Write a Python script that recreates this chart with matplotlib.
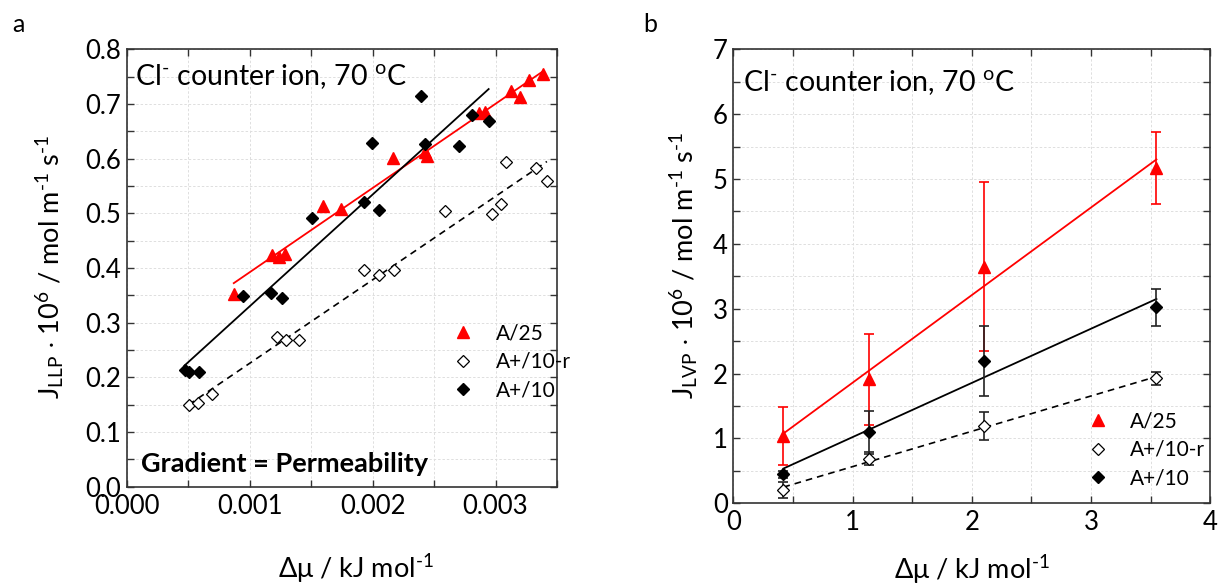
import numpy as np
import matplotlib
matplotlib.use("Agg")
import matplotlib.pyplot as plt
from matplotlib.ticker import MultipleLocator

plt.rcParams['font.family'] = ['Lato', 'DejaVu Sans']
plt.rcParams['mathtext.fontset'] = 'custom'
plt.rcParams['mathtext.rm'] = 'Lato'
plt.rcParams['mathtext.it'] = 'Lato:italic'
plt.rcParams['mathtext.bf'] = 'Lato:bold'
plt.rcParams['mathtext.fallback'] = 'stix'

# panel a: liquid-liquid permeation
a25_x = [0.000869, 0.001182, 0.001236, 0.001283, 0.001596, 0.001743, 0.002165, 0.002427,
         0.002440, 0.002865, 0.002911, 0.003124, 0.003203, 0.003271, 0.003385]
a25_y = [0.353, 0.424, 0.420, 0.426, 0.513, 0.508, 0.602, 0.613,
         0.605, 0.683, 0.685, 0.723, 0.713, 0.744, 0.754]

a10r_x = [0.000501, 0.000577, 0.000694, 0.001217, 0.001296, 0.001400, 0.001926, 0.002053,
          0.002176, 0.002587, 0.002974, 0.003042, 0.003083, 0.003333, 0.003418]
a10r_y = [0.150, 0.153, 0.169, 0.274, 0.269, 0.269, 0.396, 0.388,
          0.396, 0.504, 0.499, 0.517, 0.594, 0.583, 0.559]

a10_x = [0.000468, 0.000507, 0.000586, 0.000942, 0.001176, 0.001258, 0.001509, 0.001928,
         0.001996, 0.002053, 0.002396, 0.002429, 0.002701, 0.002805, 0.002944]
a10_y = [0.214, 0.209, 0.209, 0.348, 0.355, 0.346, 0.492, 0.520,
         0.628, 0.506, 0.715, 0.627, 0.623, 0.679, 0.668]

# panel b: liquid-vapour permeation
b_x = [0.42, 1.14, 2.10, 3.55]
b25_y = [1.04, 1.91, 3.65, 5.17]
b25_err = [0.45, 0.70, 1.30, 0.55]
b10r_y = [0.205, 0.683, 1.19, 1.93]
b10r_err = [0.12, 0.10, 0.21, 0.10]
b10_y = [0.447, 1.095, 2.20, 3.02]
b10_err = [0.05, 0.33, 0.54, 0.28]

labels = ['A/25', 'A+/10-r', 'A+/10']

RED = '#ff0000'
BLK = '#000000'
GRID = '#dedede'


def fit_line(ax, x, y, **kw):
    k, b = np.polyfit(x, y, 1)
    xs = np.array([min(x), max(x)])
    ax.plot(xs, k * xs + b, zorder=2, **kw)


def style_axes(ax):
    ax.grid(which='both', color=GRID, lw=0.7, ls=(0, (2.5, 2)))
    ax.tick_params(which='both', direction='in', top=True, right=True,
                   length=5, width=1.0, color='#333333', labelsize=18.5)
    ax.tick_params(axis='x', pad=5)
    ax.tick_params(axis='y', pad=4)
    for s in ax.spines.values():
        s.set_color('#333333')
        s.set_linewidth(1.2)
    ax.set_axisbelow(True)


fig = plt.figure(figsize=(12.19, 5.85), dpi=100)

# ---- panel a ----
ax1 = fig.add_axes([0.1042, 0.1680, 0.3527, 0.7477])
style_axes(ax1)
ax1.set_xlim(0, 0.0035)
ax1.set_ylim(0, 0.8)
ax1.xaxis.set_major_locator(MultipleLocator(0.001))
ax1.xaxis.set_minor_locator(MultipleLocator(0.0005))
ax1.yaxis.set_major_locator(MultipleLocator(0.1))
ax1.yaxis.set_minor_locator(MultipleLocator(0.05))
ax1.xaxis.set_major_formatter(matplotlib.ticker.FormatStrFormatter('%.3f'))
ax1.yaxis.set_major_formatter(matplotlib.ticker.FormatStrFormatter('%.1f'))

fit_line(ax1, a25_x, a25_y, color=RED, lw=1.3)
fit_line(ax1, a10_x, a10_y, color=BLK, lw=1.3)
fit_line(ax1, a10r_x, a10r_y, color=BLK, lw=1.2, ls=(0, (4, 3)))

h1, = ax1.plot(a25_x, a25_y, ls='none', marker='^', ms=8, color=RED, zorder=3)
h2, = ax1.plot(a10r_x, a10r_y, ls='none', marker='D', ms=6.5, mfc='white',
               mec=BLK, mew=0.9, zorder=3)
h3, = ax1.plot(a10_x, a10_y, ls='none', marker='D', ms=6.5, color=BLK, zorder=3)

ax1.legend([h1, h2, h3], labels, loc='upper left', bbox_to_anchor=(0.758, 0.374),
           frameon=False, fontsize=15, borderpad=0, borderaxespad=0,
           handlelength=1.0, handletextpad=1.05, labelspacing=0.42)

ax1.text(0.019, 0.918, r'Cl$^{\text{-}}$ counter ion, 70 $^{\mathrm{o}}$C',
         transform=ax1.transAxes, fontsize=20.5, va='baseline', ha='left')
ax1.text(0.032, 0.034, 'Gradient = Permeability', transform=ax1.transAxes,
         fontsize=19.5, fontweight='bold', va='baseline', ha='left')

ax1.set_xlabel(r'$\mathrm{\Delta\mu}$ / kJ mol$^{\text{-1}}$', fontsize=19.5)
ax1.xaxis.set_label_coords(0.533, -0.150)
fig.text(50 / 1219, 1 - 267 / 585,
         r'J$_{\mathrm{LLP}}$ $\cdot$ 10$^{6}$ / mol m$^{\text{-1}}$ s$^{\text{-1}}$',
         rotation=90, ha='center', va='center', fontsize=19.5)

# ---- panel b ----
ax2 = fig.add_axes([0.6016, 0.1397, 0.3911, 0.7760])
style_axes(ax2)
ax2.set_xlim(0, 4)
ax2.set_ylim(0, 7)
ax2.xaxis.set_major_locator(MultipleLocator(1))
ax2.xaxis.set_minor_locator(MultipleLocator(0.5))
ax2.yaxis.set_major_locator(MultipleLocator(1))
ax2.yaxis.set_minor_locator(MultipleLocator(0.5))

fit_line(ax2, b_x, b25_y, color=RED, lw=1.3)
fit_line(ax2, b_x, b10_y, color=BLK, lw=1.3)
fit_line(ax2, b_x, b10r_y, color=BLK, lw=1.2, ls=(0, (4, 3)))

ax2.errorbar(b_x, b25_y, yerr=b25_err, fmt='none', ecolor=RED, elinewidth=1.2,
             capsize=3.5, capthick=1.2, zorder=2.5)
ax2.errorbar(b_x, b10_y, yerr=b10_err, fmt='none', ecolor='#222222', elinewidth=1.2,
             capsize=3.5, capthick=1.2, zorder=2.5)
ax2.errorbar(b_x, b10r_y, yerr=b10r_err, fmt='none', ecolor='#222222', elinewidth=1.2,
             capsize=3.5, capthick=1.2, zorder=2.5)

g1, = ax2.plot(b_x, b25_y, ls='none', marker='^', ms=8, color=RED, zorder=3)
g2, = ax2.plot(b_x, b10r_y, ls='none', marker='D', ms=6.5, mfc='white',
               mec=BLK, mew=0.9, zorder=3)
g3, = ax2.plot(b_x, b10_y, ls='none', marker='D', ms=6.5, color=BLK, zorder=3)

ax2.legend([g1, g2, g3], labels, loc='upper left', bbox_to_anchor=(0.742, 0.203),
           frameon=False, fontsize=15, borderpad=0, borderaxespad=0,
           handlelength=1.0, handletextpad=1.05, labelspacing=0.42)

ax2.text(0.020, 0.908, r'Cl$^{\text{-}}$ counter ion, 70 $^{\mathrm{o}}$C',
         transform=ax2.transAxes, fontsize=20.5, va='baseline', ha='left')

ax2.set_xlabel(r'$\mathrm{\Delta\mu}$ / kJ mol$^{\text{-1}}$', fontsize=19.5)
ax2.xaxis.set_label_coords(0.5, -0.110)
fig.text(684 / 1219, 1 - 265 / 585,
         r'J$_{\mathrm{LVP}}$ $\cdot$ 10$^{6}$ / mol m$^{\text{-1}}$ s$^{\text{-1}}$',
         rotation=90, ha='center', va='center', fontsize=19.5)

fig.text(18 / 1219, 1 - 25 / 585, 'a', fontsize=18, ha='center', va='center')
fig.text(650 / 1219, 1 - 25 / 585, 'b', fontsize=18, ha='center', va='center')

fig.savefig('out.png', dpi=100)
